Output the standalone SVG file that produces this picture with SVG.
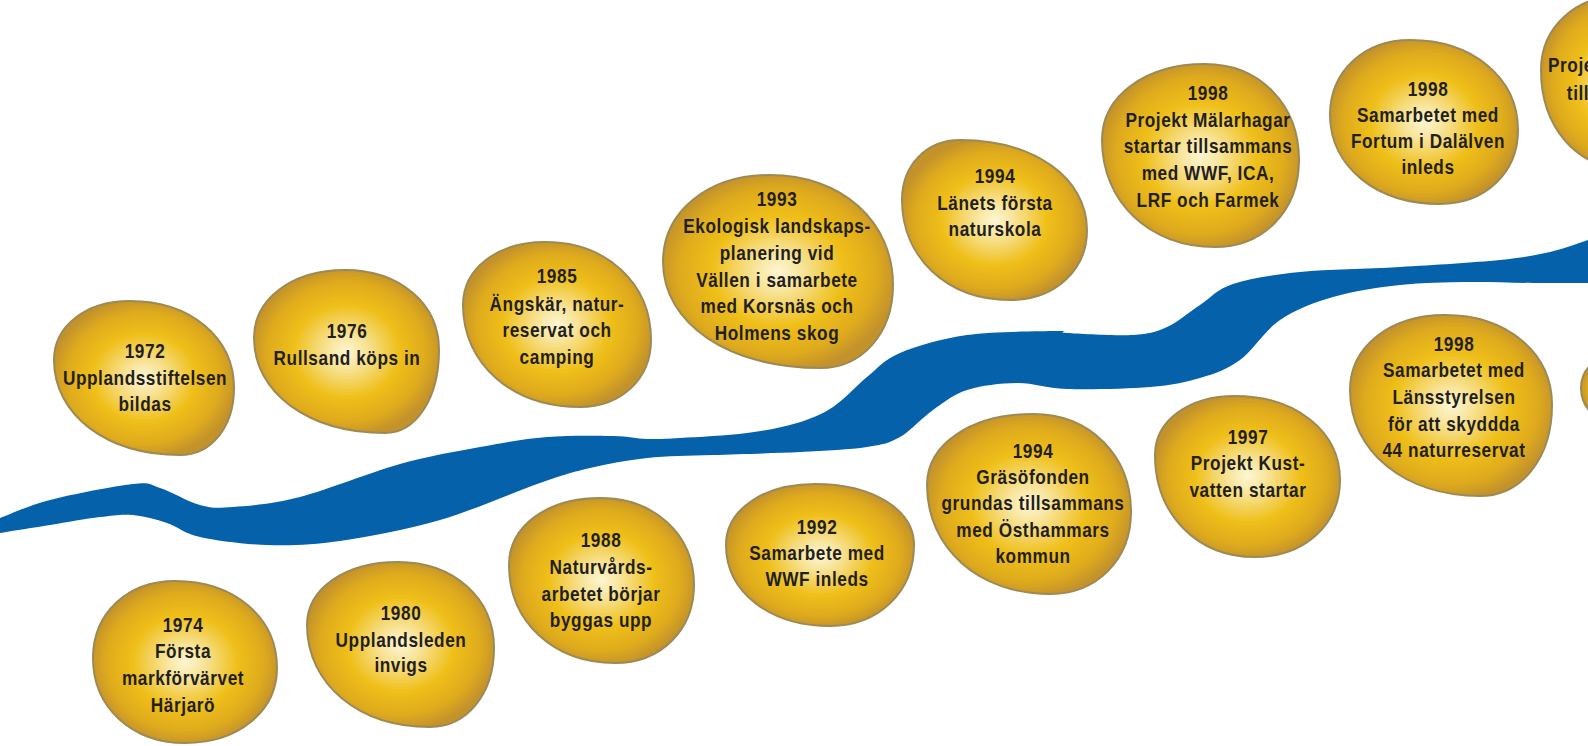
<svg xmlns="http://www.w3.org/2000/svg" width="1588" height="746" viewBox="0 0 1588 746">
<style>
.b{fill:url(#g);stroke:#9c8a55;stroke-width:2}
.t{font-family:"Liberation Sans",Arial,sans-serif;font-weight:bold;font-size:21px;fill:#231f20;text-anchor:middle;letter-spacing:0.7px}
.s{text-anchor:start}
</style>
<defs>
<radialGradient id="g" cx="50%" cy="50%" r="52%">
<stop offset="0" stop-color="#fdf6d2"/>
<stop offset="0.2" stop-color="#f8e49a"/>
<stop offset="0.55" stop-color="#efbf19"/>
<stop offset="0.82" stop-color="#dfab1d"/>
<stop offset="1" stop-color="#c3922b"/>
</radialGradient>
</defs>
<rect width="1588" height="746" fill="#fff"/>
<g id="river">
<path fill="#0561aa" d="M -10 522 L 0 518 C 8.3 515 27.8 505.7 50 500 S 114.7 486 133 484 S 148.8 484.5 160 488 S 187.8 501.8 200 505 S 216.3 508.3 233 507 S 272.2 504.2 300 497 S 370 472.3 400 464 S 455.5 451.5 480 447 S 524.8 438.8 547 437 S 596.3 435.7 613 436 S 635.8 438.7 647 439 S 663.3 439 680 438 S 727.5 435.5 747 433 S 782.7 427.3 797 423 S 821.3 414.7 833 407 S 855.8 386 867 377 S 883.3 360 900 353 S 940.8 338.7 967 335 S 1040.3 331.3 1057 331 S 1054.3 332.3 1067 333 S 1116.3 336 1133 335 S 1155.8 332 1167 327 S 1189 312.2 1200 305 S 1216.3 289.5 1233 284 S 1272.2 274.8 1300 272 S 1366.7 269 1400 267 S 1475 262.5 1500 260 S 1535.3 255.3 1550 252 S 1581.7 242 1588 240 L 1600 236 L 1600 283 L 1588 283 C 1578.8 283 1553.2 283.2 1533 283 S 1489.2 281.7 1467 282 S 1422.3 282.5 1400 285 S 1353 291.2 1333 297 S 1295.5 309.5 1280 320 S 1253.3 350.3 1240 360 S 1215 373.5 1200 378 S 1172.2 385.2 1150 387 S 1089.2 389.7 1067 389 S 1033.7 382.8 1017 383 S 981 385.5 967 390 S 944.2 402.2 933 410 S 911 430.8 900 437 S 883.7 444.5 867 447 S 825.7 450.7 800 452 S 738.5 454 713 455 S 667.5 455.8 647 458 S 607.8 463.8 590 468 S 565 474.3 540 483 S 473.3 510.3 440 520 S 368.8 536.8 340 541 S 290.3 545.7 267 545 S 216.7 540.7 200 537 S 178.2 526.7 167 523 S 144.2 516 133 515 S 113.8 515.3 100 517 S 66.7 522.3 50 525 S 8.3 531.7 0 533 L -10 536 Z"/>
</g>
<g id="n1972">
<path class="b" d="M130 301 C190.3 301 234 337.5 234 388 C234 426.9 211.3 455 180 455 C106.9 455 54 415.1 54 360 C54 325.8 85.9 301 130 301 Z"/>
<g transform="translate(145 0) scale(0.82 1)">
<text class="t" x="0" y="358">1972</text>
<text class="t" x="0" y="385">Upplandsstiftelsen</text>
<text class="t" x="0" y="411">bildas</text>
</g>
</g>
<g id="n1974">
<path class="b" d="M175 581 C234.2 581 277 617.5 277 668 C277 711.5 238.4 743 185 743 C131.6 743 93 707.3 93 658 C93 613.3 127.4 581 175 581 Z"/>
<g transform="translate(183 0) scale(0.82 1)">
<text class="t" x="0" y="632">1974</text>
<text class="t" x="0" y="658">Första</text>
<text class="t" x="0" y="685">markförvärvet</text>
<text class="t" x="0" y="712">Härjarö</text>
</g>
</g>
<g id="n1976">
<path class="b" d="M345 270 C399.5 270 439 303.6 439 350 C439 398.1 416.3 433 385 433 C309 433 254 393.1 254 338 C254 298.6 292.2 270 345 270 Z"/>
<g transform="translate(347 0) scale(0.82 1)">
<text class="t" x="0" y="338">1976</text>
<text class="t" x="0" y="365">Rullsand köps in</text>
</g>
</g>
<g id="n1980">
<path class="b" d="M398 562 C453.7 562 494 598.1 494 648 C494 693.8 467.1 727 430 727 C358.7 727 307 684.2 307 625 C307 588.5 345.2 562 398 562 Z"/>
<g transform="translate(401 0) scale(0.82 1)">
<text class="t" x="0" y="620">1980</text>
<text class="t" x="0" y="647">Upplandsleden</text>
<text class="t" x="0" y="672">invigs</text>
</g>
</g>
<g id="n1985">
<path class="b" d="M545 242 C606.5 242 651 283.2 651 340 C651 378.9 621.2 407 580 407 C512.1 407 463 364.2 463 305 C463 268.5 497.4 242 545 242 Z"/>
<g transform="translate(557 0) scale(0.82 1)">
<text class="t" x="0" y="283">1985</text>
<text class="t" x="0" y="311">Ängskär, natur-</text>
<text class="t" x="0" y="337">reservat och</text>
<text class="t" x="0" y="364">camping</text>
</g>
</g>
<g id="n1988">
<path class="b" d="M600 498 C654.5 498 694 534.5 694 585 C694 630.2 660.8 663 615 663 C553.5 663 509 621.8 509 565 C509 526.1 547.2 498 600 498 Z"/>
<g transform="translate(601 0) scale(0.82 1)">
<text class="t" x="0" y="547">1988</text>
<text class="t" x="0" y="574">Naturvårds-</text>
<text class="t" x="0" y="601">arbetet börjar</text>
<text class="t" x="0" y="627">byggas upp</text>
</g>
</g>
<g id="n1992">
<path class="b" d="M815 484 C872.4 484 914 509.6 914 545 C914 592 878.7 626 830 626 C769.7 626 726 592 726 545 C726 509.6 763.4 484 815 484 Z"/>
<g transform="translate(817 0) scale(0.82 1)">
<text class="t" x="0" y="534">1992</text>
<text class="t" x="0" y="560">Samarbete med</text>
<text class="t" x="0" y="586">WWF inleds</text>
</g>
</g>
<g id="n1993">
<path class="b" d="M770 175 C841.3 175 893 221.2 893 285 C893 333.1 862.3 368 820 368 C728.9 368 663 323.5 663 262 C663 211.5 707.9 175 770 175 Z"/>
<g transform="translate(777 0) scale(0.82 1)">
<text class="t" x="0" y="206">1993</text>
<text class="t" x="0" y="233">Ekologisk landskaps-</text>
<text class="t" x="0" y="260">planering vid</text>
<text class="t" x="0" y="287">Vällen i samarbete</text>
<text class="t" x="0" y="313">med Korsnäs och</text>
<text class="t" x="0" y="340">Holmens skog</text>
</g>
</g>
<g id="n1994a">
<path class="b" d="M960 140 C1033.7 140 1087 177.8 1087 230 C1087 270.6 1054.7 300 1010 300 C947.4 300 902 258 902 200 C902 165.2 926.4 140 960 140 Z"/>
<g transform="translate(995 0) scale(0.82 1)">
<text class="t" x="0" y="183">1994</text>
<text class="t" x="0" y="210">Länets första</text>
<text class="t" x="0" y="236">naturskola</text>
</g>
</g>
<g id="n1994b">
<path class="b" d="M1033 414 C1089.8 414 1131 455.2 1131 512 C1131 559.6 1097 594 1050 594 C978.7 594 927 548.2 927 485 C927 443.8 971.5 414 1033 414 Z"/>
<g transform="translate(1033 0) scale(0.82 1)">
<text class="t" x="0" y="458">1994</text>
<text class="t" x="0" y="484">Gräsöfonden</text>
<text class="t" x="0" y="510">grundas tillsammans</text>
<text class="t" x="0" y="537">med Östhammars</text>
<text class="t" x="0" y="563">kommun</text>
</g>
</g>
<g id="n1997">
<path class="b" d="M1235 396 C1295.9 396 1340 431.3 1340 480 C1340 524.7 1304.3 557 1255 557 C1197 557 1155 514.2 1155 455 C1155 420.8 1188.6 396 1235 396 Z"/>
<g transform="translate(1248 0) scale(0.82 1)">
<text class="t" x="0" y="444">1997</text>
<text class="t" x="0" y="470">Projekt Kust-</text>
<text class="t" x="0" y="497">vatten startar</text>
</g>
</g>
<g id="n1998a">
<path class="b" d="M1205 64 C1259.5 64 1299 104.3 1299 160 C1299 210.5 1263.7 247 1215 247 C1149.5 247 1102 202.1 1102 140 C1102 95.9 1145.3 64 1205 64 Z"/>
<g transform="translate(1208 0) scale(0.82 1)">
<text class="t" x="0" y="100">1998</text>
<text class="t" x="0" y="127">Projekt Mälarhagar</text>
<text class="t" x="0" y="153">startar tillsammans</text>
<text class="t" x="0" y="180">med WWF, ICA,</text>
<text class="t" x="0" y="207">LRF och Farmek</text>
</g>
</g>
<g id="n1998b">
<path class="b" d="M1410 40 C1472.6 40 1518 77.8 1518 130 C1518 172.9 1485.2 204 1440 204 C1376.2 204 1330 166.6 1330 115 C1330 71.5 1363.6 40 1410 40 Z"/>
<g transform="translate(1428 0) scale(0.82 1)">
<text class="t" x="0" y="96">1998</text>
<text class="t" x="0" y="122">Samarbetet med</text>
<text class="t" x="0" y="148">Fortum i Dalälven</text>
<text class="t" x="0" y="174">inleds</text>
</g>
</g>
<g id="n1998c">
<path class="b" d="M1445 315 C1507.1 315 1552 352.8 1552 405 C1552 457.8 1521.8 496 1480 496 C1404.6 496 1350 451.5 1350 390 C1350 346.5 1389.9 315 1445 315 Z"/>
<g transform="translate(1454 0) scale(0.82 1)">
<text class="t" x="0" y="351">1998</text>
<text class="t" x="0" y="377">Samarbetet med</text>
<text class="t" x="0" y="404">Länsstyrelsen</text>
<text class="t" x="0" y="431">för att skyddda</text>
<text class="t" x="0" y="457">44 naturreservat</text>
</g>
</g>
<g id="n1999a">
<path class="b" d="M1625 -5 C1668.5 -5 1700 30.7 1700 80 C1700 131 1668.5 168 1625 168 C1576.3 168 1541 126.8 1541 70 C1541 26.5 1576.3 -5 1625 -5 Z"/>
<g transform="translate(1548 0) scale(0.82 1)">
<text class="t s" x="0" y="72">Proje</text>
<text class="t s" x="23" y="100">till</text>
</g>
</g>
<g id="n1999b">
<path class="b" d="M1612 357 C1651.4 357 1680 370.9 1680 390 C1680 407.4 1651.4 420 1612 420 C1594 420 1581 406.6 1581 388 C1581 370 1594 357 1612 357 Z"/>
</g>
</svg>
